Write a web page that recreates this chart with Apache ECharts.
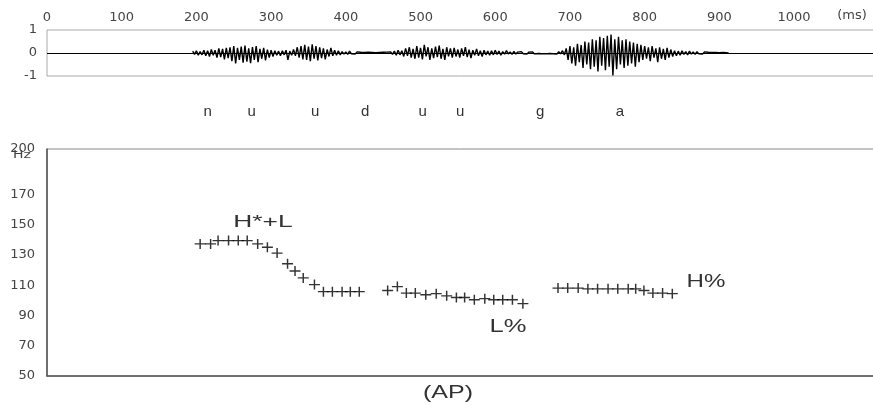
<!DOCTYPE html>
<html>
<head>
<meta charset="utf-8">
<script src="https://cdn.jsdelivr.net/npm/echarts@6/dist/echarts.min.js"></script>
<style>
  html, body { margin: 0; padding: 0; background: #fff; }
  #chart { width: 873px; height: 405px; }
</style>
</head>
<body>
<div id="chart"></div>
<script>
  // ---- waveform envelope, one value every 5 ms from 195 ms ----
  var waveStart = 195
  var waveStep = 5
  var waveUp = [
    .08,.1,.06,.12,.1,.15,.12,.2,.18,.22,
    .25,.3,.22,.28,.32,.2,.26,.3,.18,.22,
    .15,.12,.1,.08,.1,.12,.08,.15,.25,.3,
    .35,.28,.38,.3,.25,.2,.15,.22,.12,.1,
    .06,.05,.08,.04,.05,.03,.02,.03,.02,.01,
    .02,.03,.04,.05,.08,.12,.1,.2,.25,.18,
    .3,.22,.35,.25,.2,.28,.32,.18,.25,.2,
    .22,.15,.2,.25,.15,.12,.18,.1,.12,.08,
    .1,.12,.08,.06,.1,.05,.07,.04,.06,.05,
    .04,.05,.03,.04,.02,.03,.05,.04,.06,.1,
    .2,.3,.25,.4,.35,.5,.45,.6,.55,.7,
    .65,.75,.8,.6,.7,.55,.6,.5,.45,.4,
    .35,.3,.25,.3,.2,.25,.18,.22,.15,.1,
    .08,.1,.06,.08,.05,.06,.04,.05,.03,.02,
    .02,.01,.02,.01
  ]
  var waveLo = [
    -.06,-.1,-.08,-.12,-.15,-.1,-.2,-.18,-.28,-.22,
    -.35,-.45,-.3,-.42,-.38,-.44,-.3,-.4,-.25,-.32,
    -.2,-.15,-.1,-.12,-.08,-.3,-.1,-.12,-.2,-.28,
    -.3,-.35,-.25,-.32,-.22,-.28,-.15,-.12,-.1,-.08,
    -.05,-.06,-.04,-.05,-.03,-.02,-.03,-.02,-.01,-.02,
    -.01,-.02,-.03,-.06,-.1,-.08,-.15,-.12,-.2,-.25,
    -.2,-.28,-.15,-.3,-.22,-.18,-.25,-.3,-.15,-.2,
    -.15,-.2,-.12,-.18,-.22,-.1,-.12,-.15,-.08,-.1,
    -.08,-.06,-.1,-.05,-.04,-.06,-.05,-.04,-.03,-.05,
    -.03,-.04,-.02,-.03,-.04,-.02,-.03,-.05,-.04,-.08,
    -.3,-.45,-.55,-.4,-.65,-.5,-.7,-.6,-.8,-.55,
    -.75,-.6,-.98,-.7,-.5,-.65,-.55,-.45,-.6,-.4,
    -.3,-.25,-.35,-.2,-.4,-.25,-.3,-.2,-.15,-.12,
    -.1,-.06,-.08,-.05,-.06,-.04,-.05,-.03,-.02,-.02,
    -.01,-.02,-.01,-.01
  ]

  // ---- F0 track (ms, Hz) ----
  var pitchMs = [
    205,219,229,243,256,268,282,295,308,322,332,343,358,370,382,395,406,418,
    456,469,481,493,507,521,535,548,559,572,586,598,610,623,637,
    684,697,711,724,737,751,764,778,788,799,811,824,837
  ]
  var pitchHz = [
    137.3,137.3,139.5,139.5,139.5,139.5,137.3,135.1,131.2,124.2,119.4,114.8,110.4,105.7,105.7,105.7,105.7,105.7,
    106.5,109.1,104.8,104.8,103.7,104.4,103.0,101.9,101.9,100.4,101.1,100.4,100.4,100.4,97.8,
    108.1,108.1,108.1,107.6,107.6,107.6,107.6,107.6,107.6,106.5,104.8,104.8,104.4
  ]
  var pitchTicks = [50, 70, 90, 110, 130, 150, 170, 200]

  // ---- segment labels ----
  var phonemes = ['n', 'u', 'u', 'd', 'u', 'u', 'g', 'a']
  var phonemeMs = [215, 274, 359, 426, 503, 553, 660, 767]

  var waveData = []
  waveUp.forEach(function (v, i) {
    var t = waveStart + i * waveStep
    waveData.push([t, v])
    waveData.push([t + waveStep / 2, waveLo[i]])
  })
  var pitchData = pitchMs.map(function (t, i) { return [t, pitchHz[i]] })

  var tickFont = { fontFamily: 'DejaVu Sans', fontSize: 13, color: '#444' }

  var chart = echarts.init(document.getElementById('chart'))
  chart.setOption({
    animation: false,
    backgroundColor: '#fff',
    grid: [
      { left: 47, top: 30, width: 830, height: 46, show: true, borderColor: '#aaa', borderWidth: 1, outerBoundsMode: 'none' },
      { left: 47, top: 149, width: 830, height: 227, show: true, borderColor: '#888', borderWidth: 1, outerBoundsMode: 'none' }
    ],
    xAxis: [
      {
        gridIndex: 0, type: 'value', position: 'top', min: 0, max: 1111, interval: 100,
        axisLine: { show: false, onZero: false },
        axisTick: { show: false },
        splitLine: { show: false },
        axisLabel: Object.assign({ margin: 6, formatter: function (v) { return v <= 1000 ? v : '' } }, tickFont)
      },
      {
        gridIndex: 1, type: 'value', min: 0, max: 1111, interval: 100,
        axisLine: { show: true, onZero: false, lineStyle: { color: '#555', width: 1.5 } },
        axisTick: { show: false },
        splitLine: { show: false },
        axisLabel: { show: false }
      }
    ],
    yAxis: [
      {
        gridIndex: 0, type: 'value', min: -1, max: 1, interval: 1,
        axisLine: { show: false },
        axisTick: { show: false },
        splitLine: { show: false },
        axisLabel: Object.assign({ margin: 10 }, tickFont)
      },
      {
        gridIndex: 1, type: 'value', min: 50, max: 200, interval: 10,
        axisLine: { show: true, lineStyle: { color: '#555', width: 1.5 } },
        axisTick: { show: false },
        splitLine: { show: false },
        axisLabel: Object.assign({ margin: 12, formatter: function (v) { return pitchTicks.indexOf(v) >= 0 ? v : '' } }, tickFont)
      }
    ],
    series: [
      {
        type: 'line',
        xAxisIndex: 0, yAxisIndex: 0,
        data: waveData,
        showSymbol: false,
        lineStyle: { color: '#000', width: 1.4 },
        markLine: {
          silent: true, symbol: 'none', label: { show: false },
          lineStyle: { color: '#000', width: 1, type: 'solid' },
          data: [{ yAxis: 0 }]
        }
      },
      {
        type: 'scatter',
        xAxisIndex: 1, yAxisIndex: 1,
        data: pitchData,
        symbol: 'path://M0,5H10M5,0V10',
        symbolSize: [11, 10],
        itemStyle: { color: 'transparent', borderColor: '#000', borderWidth: 1.4 }
      }
    ]
  })

  // 注释文字
  function txt (text, x, y, size, sx, font, color) {
    return {
      type: 'text', x: x, y: y, scaleX: sx || 1, silent: true,
      style: {
        text: text, fill: color || '#333',
        font: size + 'px "' + (font || 'Liberation Sans') + '"',
        textAlign: 'center', textVerticalAlign: 'middle',
        align: 'center', verticalAlign: 'middle'
      }
    }
  }
  var graphics = [
    txt('(ms)', 852, 16, 13, 1, 'DejaVu Sans', '#444'),
    txt('Hz', 22, 155, 10, 1.4, 'DejaVu Sans', '#444'),
    txt('H*+L', 263, 222, 17, 1.55),
    txt('L%', 508, 327, 18, 1.42),
    txt('H%', 706, 282, 18, 1.34),
    txt('(AP)', 448, 393, 18, 1.39)
  ]
  phonemes.forEach(function (p, i) {
    var px = chart.convertToPixel({ xAxisIndex: 0 }, phonemeMs[i])
    graphics.push(txt(p, px, 112, 15))
  })
  chart.setOption({ graphic: graphics })
</script>
</body>
</html>
